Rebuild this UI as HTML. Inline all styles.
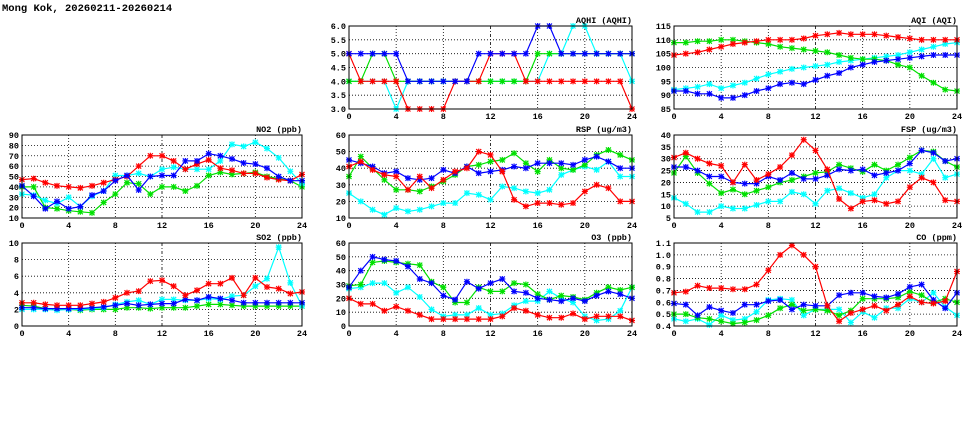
<!DOCTYPE html>
<html><head><meta charset="utf-8"><style>
body{margin:0;background:#fff;width:975px;height:447px;overflow:hidden}
svg{display:block}
text{font-family:"Liberation Mono",monospace;font-weight:bold;fill:#000}
</style></head><body>
<svg id="s" width="975" height="447">
<text x="2" y="11" font-size="10.5">Mong Kok, 20260211-20260214</text>
</svg>
<script>
const hours = [0,1,2,3,4,5,6,7,8,9,10,11,12,13,14,15,16,17,18,19,20,21,22,23,24];
const xTicks = [0,4,8,12,16,20,24];
const aqhiRed=[5,4,4,4,4,3,3,3,3,4,4,4,5,5,5,4,4,4,4,4,4,4,4,4,3];
const aqhiGreen=[4,4,5,5,4,4,4,4,4,4,4,4,4,4,4,4,5,5,5,5,5,5,5,5,5];
const aqhiCyan=[4,4,4,4,3,4,4,4,4,4,4,4,4,4,4,4,4,5,5,6,6,5,5,5,4];
const aqhiBlue=[5,5,5,5,5,4,4,4,4,4,4,5,5,5,5,5,6,6,5,5,5,5,5,5,5];
const aqhiTicks=[3.0,3.5,4.0,4.5,5.0,5.5,6.0];
const aqiRed=[104.5,105,105.5,106.5,107.5,108.5,109,109.5,110,110,110,110.5,111.5,112,112.5,112,112,112,111.5,111,110.5,110,110,110,110];
const aqiGreen=[109,109,109.5,109.5,110,110,109.5,109,108.5,107.5,107,106.5,106,105.5,104.5,103.5,103,103,102.5,101,100,97,94.5,92,91.5];
const aqiCyan=[92,92.5,93,94,92.5,93.5,94.5,96,97.5,98.5,99.5,100,100.5,101,102,102.5,103,103.5,104,104.5,105.5,106.5,107.5,108.5,109];
const aqiBlue=[91.5,91.5,90.5,90.5,89,89,90,91.5,92.5,94,94.5,94,95.5,97,98,100,101,102,102.5,103,103.5,104,104.5,104.5,104.5];
const aqiTicks=[85,90,95,100,105,110,115];
const no2Red=[47,48,44,41,40,39,41,44,47,50,60,70,70,65,57,62,66,58,56,53,53,49,47,46,52];
const no2Green=[40,40,20,19,17,16,15,25,33,44,43,33,40,40,36,41,51,54,52,53,54,50,48,46,40];
const no2Cyan=[33,32,27,24,30,21,31,36,51,51,53,50,57,59,57,57,57,65,81,79,83,77,68,55,43];
const no2Blue=[41,31,19,26,19,21,32,36,46,51,37,50,51,51,65,65,72,70,67,63,62,58,50,46,46];
const no2Ticks=[10,20,30,40,50,60,70,80,90];
const rspRed=[41,44,39,36,35,27,35,28,33,38,40,50,48,38,21,17,19,19,18,19,26,30,28,20,20];
const rspGreen=[35,47,40,33,27,27,26,29,32,36,41,42,44,45,49,43,38,45,40,39,42,48,51,48,45];
const rspCyan=[25,20,15,12,16,14,15,17,19,19,25,24,21,29,28,26,25,27,36,39,41,39,44,35,35];
const rspBlue=[45,43,41,37,38,34,33,34,39,37,41,37,38,39,41,40,43,43,43,42,45,47,44,40,40];
const rspTicks=[10,20,30,40,50,60];
const fspRed=[30.5,32.5,30,28,27,20,27.5,21,23.5,26.5,31.5,38,33.5,25.5,13,9,12,12.5,11,12,18,22,20,12.5,12];
const fspGreen=[24,31,24,19.5,15.5,17,15,16.5,18,20,21,22.5,24,24.5,27.5,26,24.5,27.5,25,27.5,30.5,33.5,33,29,26.5];
const fspCyan=[13.5,11,7.5,7.5,10,9,9,10.5,12,12,16,15,11,16.5,17.5,15.5,13.5,15,22,25,25,23.5,30,22,23.5];
const fspBlue=[26.5,26.5,25,22.5,22.5,20,19.5,19.5,22.5,21,24,21.5,21.5,23,25.5,25,25.5,23,24,25,28,33.5,32.5,29,30];
const fspTicks=[5,10,15,20,25,30,35,40];
const so2Red=[2.8,2.8,2.6,2.5,2.5,2.5,2.7,2.9,3.4,4.0,4.2,5.4,5.5,4.8,3.7,4.3,5.1,5.1,5.8,3.7,5.8,4.7,4.5,3.9,4.1];
const so2Green=[2.5,2.4,2.1,2.1,2,1.9,2,2,2,2.2,2.2,2.1,2.2,2.2,2.2,2.4,2.6,2.6,2.5,2.4,2.4,2.4,2.4,2.4,2.4];
const so2Cyan=[2,2,2,1.9,2,2,2.1,2.2,2.6,2.9,3.1,2.6,3.2,3.2,3.1,3.1,3.3,3.2,3.6,3.7,4.8,5.7,9.5,5.2,2.4];
const so2Blue=[2.2,2.2,2.1,2.1,2.1,2.1,2.2,2.3,2.5,2.7,2.5,2.6,2.7,2.7,3.2,3.1,3.5,3.3,3.1,2.8,2.8,2.8,2.8,2.8,2.8];
const so2Ticks=[0,2,4,6,8,10];
const o3Red=[20,16,16,11,14,11,8,5,5,5,5,5,5,7,13,11,8,6,6,9,5,7,7,7,4];
const o3Green=[29,30,46,47,46,45,44,32,28,17,17,28,25,25,31,30,23,19,22,21,19,24,28,26,28];
const o3Cyan=[27,28,31,31,24,28,21,12,7,8,8,13,8,9,15,18,18,25,20,17,7,4,5,11,28];
const o3Blue=[28,40,50,48,47,43,34,31,22,19,32,27,31,34,25,24,20,19,18,20,18,22,25,23,20];
const o3Ticks=[0,10,20,30,40,50,60];
const coRed=[.68,.69,.74,.72,.72,.71,.71,.75,.87,1.0,1.08,1.0,.9,.57,.44,.51,.54,.57,.53,.58,.65,.60,.59,.61,.86];
const coGreen=[.50,.50,.47,.46,.44,.42,.43,.45,.49,.55,.58,.53,.54,.53,.49,.53,.63,.63,.63,.64,.69,.66,.60,.63,.60];
const coCyan=[.46,.44,.46,.41,.49,.45,.46,.52,.62,.63,.62,.49,.54,.54,.54,.43,.52,.47,.55,.55,.63,.60,.68,.56,.49];
const coBlue=[.59,.58,.49,.56,.53,.51,.58,.58,.61,.62,.54,.58,.57,.57,.66,.68,.68,.65,.64,.67,.73,.75,.62,.55,.68];
const coTicks=[0.4,0.5,0.6,0.7,0.8,0.9,1.0,1.1];

const NS="http://www.w3.org/2000/svg";
const svg=document.getElementById('s');
function mk(t,a,p){const e=document.createElementNS(NS,t);for(const k in a)e.setAttribute(k,a[k]);(p||svg).appendChild(e);return e;}
const COLORS={red:'#ff0000',green:'#00e000',cyan:'#00ffff',blue:'#0000ff'};

function panel(key,title,x0,x1,y0,y1,ticks,dec,series){
  const g=mk('g',{});
  
  
  const lo=ticks[0],hi=ticks[ticks.length-1];
  const sx=h=>x0+(h-hours[0])/(24)*(x1-x0);
  const sy=v=>y1-(v-lo)/(hi-lo)*(y1-y0);
  mk('rect',{x:x0,y:y0,width:x1-x0,height:y1-y0,fill:'#fff'},g);
  ticks.forEach(t=>{
    const y=sy(t);
    if(t!==lo&&t!==hi){const l=mk('line',{x1:x0,x2:x1,y1:y,y2:y,stroke:'#000','stroke-width':0.8,'stroke-dasharray':'1,2'},g);
      }
    const tx=mk('text',{x:x0-3,y:y+3,'font-size':8.5,'text-anchor':'end'},g);
    
    tx.textContent=t.toFixed(dec);
  });
  xTicks.forEach(t=>{
    const x=sx(t);
    if(t!==0&&t!==24){const l=mk('line',{x1:x,x2:x,y1:y0,y2:y1,stroke:'#000','stroke-width':0.8,'stroke-dasharray':t===12?'3,2,1,2':'1,2'},g);
      }
    const tx=mk('text',{x:x,y:y1+10,'font-size':8.5,'text-anchor':'middle'},g);
    
    tx.textContent=t;
  });
  const cp=mk('clipPath',{id:'c'+key},g);mk('rect',{x:x0-3,y:y0-3,width:x1-x0+6,height:y1-y0+6},cp);
  const sg=mk('g',{'clip-path':'url(#c'+key+')'},g);
  series.forEach(([name,data])=>{
    const c=COLORS[name];
    const pts=data.map((v,i)=>sx(hours[i]).toFixed(1)+','+sy(v).toFixed(1)).join(' ');
    const pl=mk('polyline',{points:pts,fill:'none',stroke:c,'stroke-width':1.2},sg);
    
    
    data.forEach((v,i)=>{
      const x=sx(hours[i]),y=sy(v);
      const m=mk('path',{d:`M${x-2.5},${y-2.5}L${x+2.5},${y+2.5}M${x-2.5},${y+2.5}L${x+2.5},${y-2.5}M${x-3},${y}L${x+3},${y}M${x},${y-3}L${x},${y+3}`,stroke:c,'stroke-width':1.2},sg);
      
      
    });
  });
  const fr=mk('rect',{x:x0,y:y0,width:x1-x0,height:y1-y0,fill:'none',stroke:'#000','stroke-width':1},g);
  
  const tt=mk('text',{x:x1,y:y0-3,'font-size':8.5,'text-anchor':'end'},g);
  
  tt.textContent=title;
}
const C1=[22,302],C2=[349,632],C3=[674,957];
const R1=[26,109],R2=[135,218],R3=[243,326];
panel('aqhi','AQHI (AQHI)',C2[0],C2[1],R1[0],R1[1],aqhiTicks,1,[['cyan',aqhiCyan],['green',aqhiGreen],['red',aqhiRed],['blue',aqhiBlue]]);
panel('aqi','AQI (AQI)',C3[0],C3[1],R1[0],R1[1],aqiTicks,0,[['cyan',aqiCyan],['green',aqiGreen],['red',aqiRed],['blue',aqiBlue]]);
panel('no2','NO2 (ppb)',C1[0],C1[1],R2[0],R2[1],no2Ticks,0,[['green',no2Green],['cyan',no2Cyan],['red',no2Red],['blue',no2Blue]]);
panel('rsp','RSP (ug/m3)',C2[0],C2[1],R2[0],R2[1],rspTicks,0,[['cyan',rspCyan],['green',rspGreen],['blue',rspBlue],['red',rspRed]]);
panel('fsp','FSP (ug/m3)',C3[0],C3[1],R2[0],R2[1],fspTicks,0,[['cyan',fspCyan],['green',fspGreen],['blue',fspBlue],['red',fspRed]]);
panel('so2','SO2 (ppb)',C1[0],C1[1],R3[0],R3[1],so2Ticks,0,[['green',so2Green],['cyan',so2Cyan],['blue',so2Blue],['red',so2Red]]);
panel('o3','O3 (ppb)',C2[0],C2[1],R3[0],R3[1],o3Ticks,0,[['cyan',o3Cyan],['red',o3Red],['green',o3Green],['blue',o3Blue]]);
panel('co','CO (ppm)',C3[0],C3[1],R3[0],R3[1],coTicks,1,[['cyan',coCyan],['green',coGreen],['blue',coBlue],['red',coRed]]);
</script>
</body></html>
